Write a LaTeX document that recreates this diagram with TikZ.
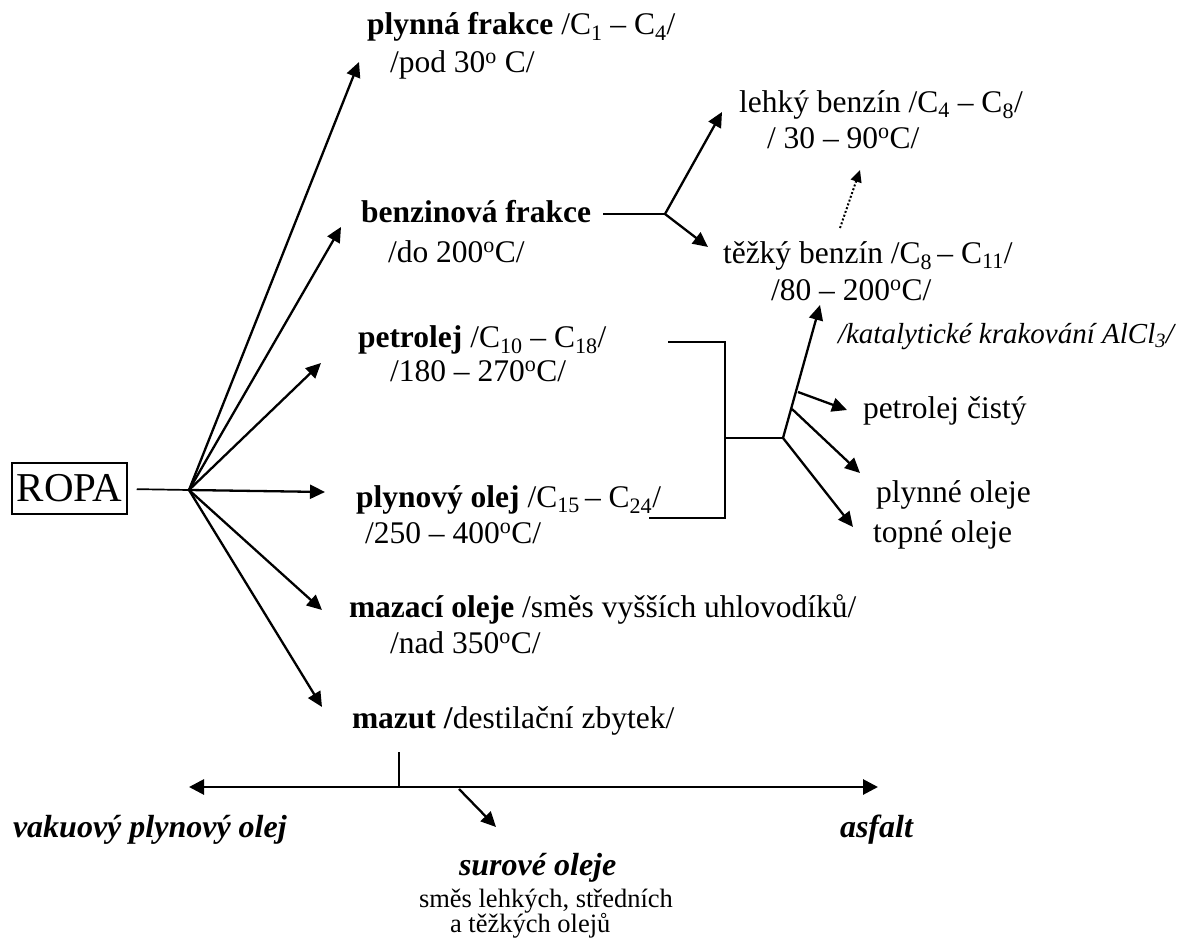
\documentclass[tikz,border=0pt]{standalone}
\usepackage{fontspec}
\setmainfont{Liberation Serif}
\usetikzlibrary{arrows.meta}
\newcommand{\mainfs}{\fontsize{31.5}{36}\selectfont}
\newcommand{\smallfs}{\fontsize{26.5}{30}\selectfont}
\newcommand{\dg}{\textsuperscript{o}}
\newcommand{\sbs}[1]{\textsubscript{#1}}
\tikzset{
  txt/.style={anchor=base west, inner sep=0pt, outer sep=0pt, font=\mainfs},
  smalltxt/.style={anchor=base west, inner sep=0pt, outer sep=0pt, font=\smallfs},
  arr/.style={line width=2.3pt, -{Triangle[length=15pt,width=14pt]}},
  plain/.style={line width=1.7pt},
  dotarr/.style={line width=2pt, dotted, -{Triangle[length=12pt,width=11pt]}},
  dblarr/.style={line width=2.8pt, {Triangle[length=15pt,width=15pt]}-{Triangle[length=15pt,width=15pt]}}
}
\begin{document}
\begin{tikzpicture}[x=1pt,y=-1pt]
\useasboundingbox (0,0) rectangle (1192,942);
% ROPA
\node[draw, line width=1.5pt, minimum width=115pt, minimum height=51pt, inner sep=0pt, font=\fontsize{41}{46}\selectfont] (ropa) at (69.5,488.5) {ROPA};
\coordinate (hub) at (189,490);
\draw[plain, shorten <=9pt] (ropa.east |- 0,489) -- (hub);
% tips
\coordinate (a1) at (359,62);
\coordinate (a2) at (341,227);
\coordinate (a3) at (321,363);
\coordinate (a4) at (325,492);
\coordinate (a5) at (322,610);
\coordinate (a6) at (322,707);
\foreach \t in {a1,a2,a3,a4,a5,a6} \draw[arr] (hub) -- (\t);
% texts left column
\node[txt] (t1a) at (367,35) {\textbf{plynná frakce} /C\sbs{1} – C\sbs{4}/};
\node[txt] (t1b) at (390,73) {/pod 30\dg{} C/};
\node[txt] (t2a) at (361,222) {\textbf{benzinová frakce}};
\node[txt] (t2b) at (388,262) {/do 200\dg C/};
\node[txt] (t5a) at (358,347) {\textbf{petrolej} /C\sbs{10} – C\sbs{18}/};
\node[txt] (t5b) at (390,381) {/180 – 270\dg C/};
\node[txt] (t6a) at (356,507) {\textbf{plynový olej} /C\sbs{15}\,– C\sbs{24}/};
\node[txt] (t6b) at (365,543) {/250 – 400\dg C/};
\node[txt] (t10a) at (349,617) {\textbf{mazací oleje} /směs vyšších uhlovodíků/};
\node[txt] (t10b) at (390,653) {/nad 350\dg C/};
\node[txt] (t11) at (352,728) {\textbf{mazut /}destilační zbytek/};
% benzin branch
\coordinate (b0) at (603,214);
\coordinate (j1) at (665,214);
\draw[plain] (b0) -- (j1);
\coordinate (lb) at (722,112);
\coordinate (tb) at (708,247);
\draw[arr] (j1) -- (lb);
\draw[arr] (j1) -- (tb);
\node[txt] (t3a) at (739,112) {lehký benzín /C\sbs{4} – C\sbs{8}/};
\node[txt] (t3b) at (767,148) {/ 30 – 90\dg C/};
\coordinate (d0) at (840,228);
\coordinate (d1) at (860,170);
\draw[dotarr] (d0) -- (d1);
\node[txt] (t4a) at (723,263) {těžký benzín /C\sbs{8}\,– C\sbs{11}/};
\node[txt] (t4b) at (771,300) {/80 – 200\dg C/};
\node[txt, font=\fontsize{29}{33}\selectfont\itshape] (t4c) at (838,343) {/katalytické krakování AlCl\sbs{3}/};
% bracket
\coordinate (p1) at (668,342);
\coordinate (p2) at (725,342);
\coordinate (p3) at (725,518);
\coordinate (p4) at (649,518);
\coordinate (pm) at (725,438);
\coordinate (k) at (783,438);
\draw[plain] (p1) -- (p2) -- (p3) -- (p4);
\draw[plain] (pm) -- (k);
\coordinate (kt) at (820,305);
\draw[arr] (k) -- (kt);
\coordinate (k1) at (798,392);
\coordinate (k2) at (792,409);
\coordinate (e1) at (847,410);
\coordinate (e2) at (860,473);
\coordinate (e3) at (853,527);
\draw[arr] (k1) -- (e1);
\draw[arr] (k2) -- (e2);
\draw[arr] (k) -- (e3);
\node[txt] (t7) at (863,418) {petrolej čistý};
\node[txt] (t8) at (876,502) {plynné oleje};
\node[txt] (t9) at (873,542) {topné oleje};
% bottom
\coordinate (m0) at (399,752);
\coordinate (m1) at (399,787);
\draw[plain] (m0) -- (m1);
\coordinate (h0) at (189,787);
\coordinate (h1) at (878,787);
\draw[dblarr] (h0) -- (h1);
\coordinate (s0) at (459,789);
\coordinate (s1) at (496,827);
\draw[arr] (s0) -- (s1);
\node[txt, font=\fontsize{32}{36}\selectfont\bfseries\itshape] (t12) at (13,837) {vakuový plynový olej};
\node[txt, font=\fontsize{32}{36}\selectfont\bfseries\itshape] (t13) at (840,837) {asfalt};
\node[txt, font=\fontsize{32}{36}\selectfont\bfseries\itshape] (t14) at (459,875) {surové oleje};
\node[smalltxt] (t15) at (419,907) {směs lehkých, středních};
\node[smalltxt] (t16) at (450,932) {a těžkých olejů};
\end{tikzpicture}
\end{document}
